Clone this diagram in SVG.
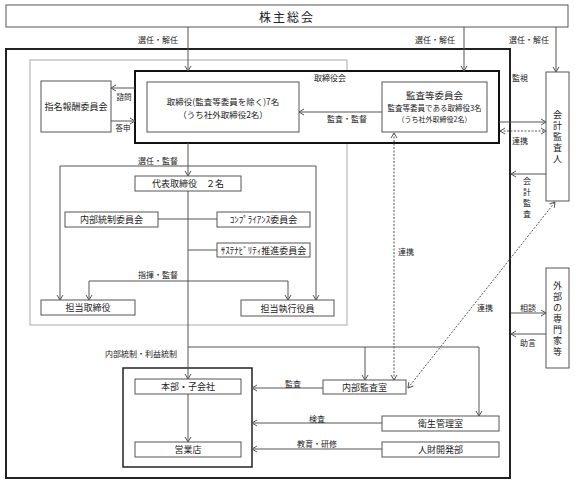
<svg xmlns="http://www.w3.org/2000/svg" width="575" height="485" viewBox="0 0 575 485">
<style>
text{font-family:"Noto Sans CJK JP","Noto Sans CJK SC",sans-serif;fill:#222;font-size:9px;text-anchor:middle;dominant-baseline:central}
.lbl{font-size:8px}
.sm{font-size:7.5px}
.vt{writing-mode:vertical-rl;text-orientation:upright}
.box{fill:#fff;stroke:#555;stroke-width:1}
.thick{fill:#fff;stroke:#111;stroke-width:2}
.gray{fill:none;stroke:#aaa;stroke-width:1}
.ln{fill:none;stroke:#555;stroke-width:1}
.arr{marker-end:url(#ah)}
.dbl{marker-start:url(#ah);marker-end:url(#ah)}
.dot{stroke-dasharray:2,1.5}
</style>
<defs>
<marker id="ah" viewBox="0 0 8 8" refX="7.5" refY="4" markerWidth="8" markerHeight="8" markerUnits="userSpaceOnUse" orient="auto-start-reverse">
<path d="M2.5,1 L7.5,4 L2.5,7" fill="none" stroke="#555" stroke-width="1"/>
</marker>
</defs>

<g id="frames">
<rect id="outer" x="6" y="49" width="504" height="429" fill="none" stroke="#222" stroke-width="2"/>
<rect id="exec-area" class="gray" x="30" y="60" width="317" height="265"/>
</g>

<g id="shareholders"><rect class="box" x="6" y="5" width="562" height="22"/><text x="287" y="16" style="font-size:12px;letter-spacing:2px">株主総会</text></g>

<g id="board"><rect class="thick" x="135" y="71" width="364" height="72"/><text x="330" y="77" class="lbl">取締役会</text></g>

<g id="directors"><rect class="box" x="147" y="82" width="152" height="50"/><text x="223" y="101" style="font-size:8.5px">取締役(監査等委員を除く)7名</text><text x="223" y="113.5" style="font-size:8.5px">（うち社外取締役2名）</text></g>

<g id="audit-committee"><rect class="box" x="382" y="82" width="105" height="50"/><text x="434.5" y="94.5" style="font-size:9.5px">監査等委員会</text><text x="434.5" y="107" style="font-size:7.5px">監査等委員である取締役3名</text><text x="434.5" y="118.5" style="font-size:7px">（うち社外取締役2名）</text></g>

<g id="nomination"><rect class="box" x="41" y="81" width="70" height="51"/><text x="76" y="106.5">指名報酬委員会</text></g>

<g id="auditor"><rect class="box" x="546" y="72" width="23" height="129"/>
<text class="vt" x="557.5" y="138" style="letter-spacing:2px">会計監査人</text></g>

<g id="experts"><rect class="box" x="546" y="268" width="23" height="100"/>
<text class="vt" x="557.5" y="320" style="letter-spacing:2px">外部の専門家等</text></g>

<g id="rep"><rect class="box" x="135" y="176" width="106" height="15"/><text x="188" y="183.5">代表取締役　２名</text></g>
<g id="internal-control"><rect class="box" x="65" y="212" width="93" height="15"/><text x="111.5" y="219.5">内部統制委員会</text></g>
<g id="compliance"><rect class="box" x="217" y="212" width="93" height="15"/><text x="263.5" y="219.5">ｺﾝﾌﾟﾗｲｱﾝｽ委員会</text></g>
<g id="sustainability"><rect class="box" x="217" y="243" width="93" height="14"/><text x="263.5" y="250">ｻｽﾃﾅﾋﾞﾘﾃｨ推進委員会</text></g>
<g id="dir-in-charge"><rect class="box" x="41" y="300" width="94" height="15"/><text x="88" y="307.5">担当取締役</text></g>
<g id="exec-officer"><rect class="box" x="241" y="300" width="93" height="16"/><text x="287.5" y="308">担当執行役員</text></g>

<g id="ops"><rect x="123" y="368" width="129" height="99" fill="none" stroke="#222" stroke-width="1.5"/></g>
<g id="hq"><rect class="box" x="135" y="379" width="106" height="15"/><text x="188" y="386.5">本部・子会社</text></g>
<g id="branches"><rect class="box" x="135" y="442" width="106" height="15"/><text x="188" y="449.5">営業店</text></g>
<g id="internal-audit"><rect class="box" x="323" y="380" width="83" height="14"/><text x="364.5" y="387">内部監査室</text></g>
<g id="hygiene"><rect class="box" x="382" y="416" width="117" height="15"/><text x="440.5" y="423.5">衛生管理室</text></g>
<g id="hr"><rect class="box" x="382" y="442" width="117" height="15"/><text x="440.5" y="449.5">人財開発部</text></g>

<g id="connectors">
<path class="ln arr" d="M188,27 V71"/>
<path class="ln arr" d="M464,27 V71"/>
<path class="ln arr" d="M556,27 V72"/>
<path class="ln arr" d="M135,88 H111"/>
<path class="ln arr" d="M111,121 H135"/>
<path class="ln arr" d="M382,112 H299"/>
<path class="ln arr" d="M499,122 H546"/>
<path class="ln dbl dot" d="M500,131 H546"/>
<path class="ln arr" d="M188,143 V176"/>
<path class="ln arr" d="M188,191 V379"/>
<path class="ln dbl" d="M60,300 V166 H316 V300"/>
<path class="ln" d="M158,219 H217"/>
<path class="ln" d="M188,250 H217"/>
<path class="ln dbl" d="M89,300 V281 H288 V300"/>
<path class="ln arr" d="M188,347 H479 V416"/>
<path class="ln arr" d="M365,347 V380"/>
<path class="ln dbl dot" d="M394,133 V380"/>
<path class="ln dbl dot" d="M408,388 L555,202"/>
<path class="ln arr" d="M323,388 H252"/>
<path class="ln arr" d="M382,423 H252"/>
<path class="ln arr" d="M382,449 H252"/>
<path class="ln arr" d="M188,394 V442"/>
<path class="ln arr" d="M546,174 H511"/>
<path class="ln arr" d="M511,313 H546"/>
<path class="ln arr" d="M546,334 H511"/>
</g>

<g id="labels">
<text class="lbl" x="158" y="39">選任・解任</text>
<text class="lbl" x="435" y="39">選任・解任</text>
<text class="lbl" x="529" y="39">選任・解任</text>
<text class="sm" x="124" y="96">諮問</text>
<text class="sm" x="123" y="127">答申</text>
<text class="lbl" x="347" y="118">監査・監督</text>
<text class="lbl" x="520" y="77">監視</text>
<text class="lbl" x="520" y="140">連携</text>
<text class="lbl" x="158" y="160">選任・監督</text>
<text class="lbl" x="158" y="274">指揮・監督</text>
<text class="lbl" x="406" y="251">連携</text>
<text class="lbl" x="485" y="307">連携</text>
<text class="lbl" x="528" y="307">相談</text>
<text class="lbl" x="528" y="342">助言</text>
<text class="lbl vt" x="527" y="199" style="letter-spacing:3px">会計監査</text>
<text class="lbl" x="141" y="353">内部統制・利益統制</text>
<text class="lbl" x="293" y="383">監査</text>
<text class="lbl" x="317" y="418">検査</text>
<text class="lbl" x="317" y="443">教育・研修</text>
</g>
</svg>
